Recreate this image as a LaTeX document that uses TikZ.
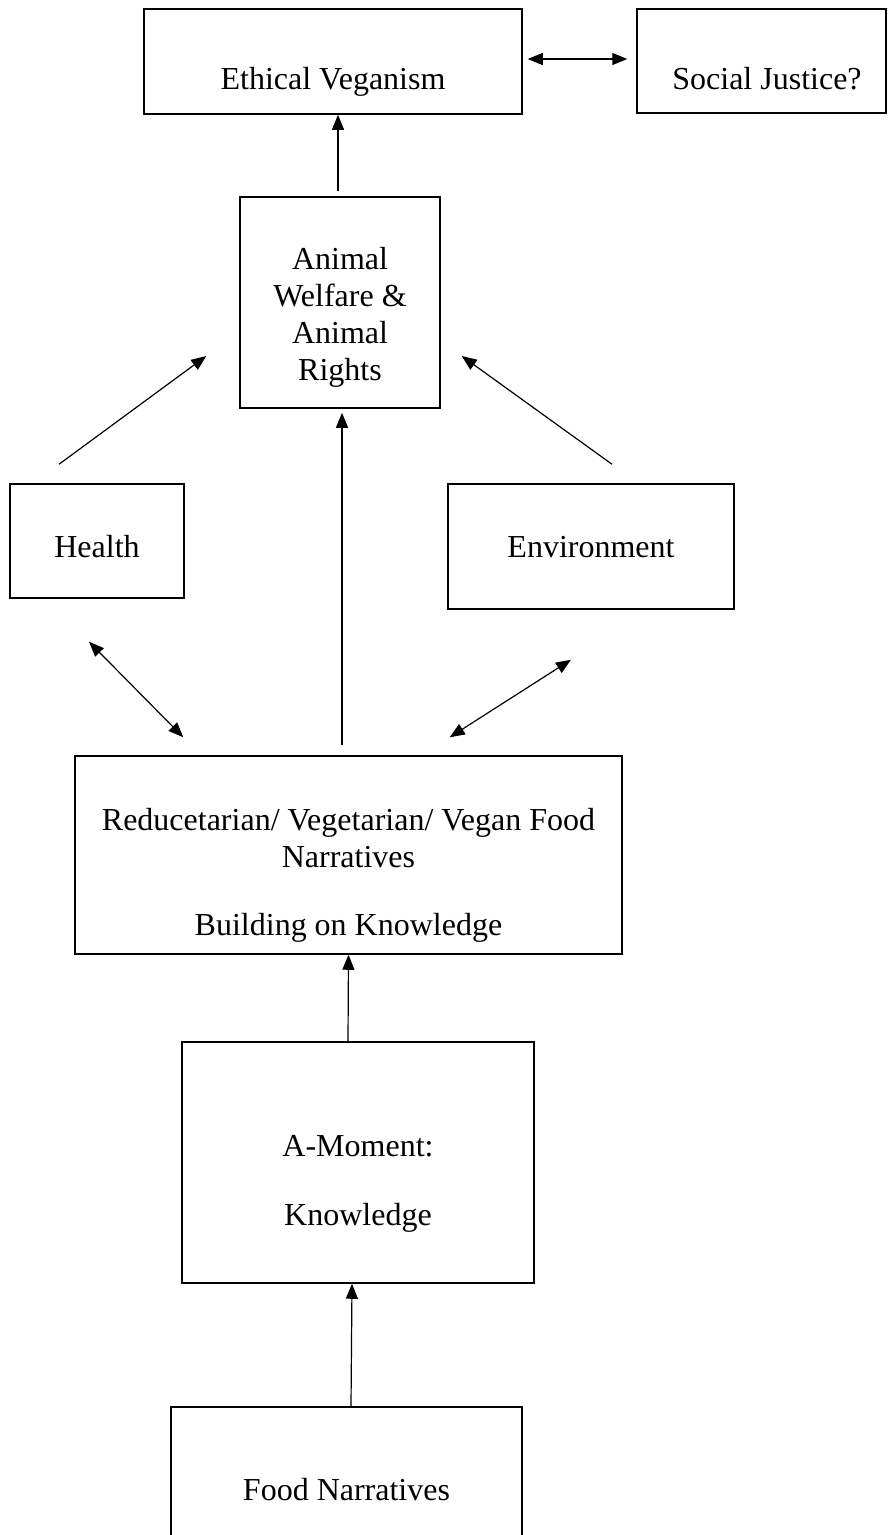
\documentclass[tikz,border=0pt]{standalone}
\usepackage{fontspec}
\setmainfont{Liberation Serif}
\usetikzlibrary{arrows.meta}
\begin{document}
\begin{tikzpicture}[x=1pt,y=-1pt,
  box/.style={draw, line width=1.5pt, inner sep=0pt},
  lbl/.style={font=\fontsize{32}{37}\selectfont, align=center, inner sep=0pt, anchor=base},
  conn/.style={line width=1.2pt, -{Triangle[length=15pt,width=12pt]}},
  conn2/.style={line width=1.2pt, {Triangle[length=15pt,width=12pt]}-{Triangle[length=15pt,width=12pt]}}]
\useasboundingbox (0,0) rectangle (889,1535);
% boxes
\node[box, minimum width=378pt, minimum height=105pt] (eth) at (333,61.5) {};
\node[box, minimum width=249pt, minimum height=104pt] (soc) at (761.5,61) {};
\node[box, minimum width=200pt, minimum height=211pt] (ani) at (340,302.5) {};
\node[box, minimum width=174pt, minimum height=114pt] (hea) at (97,541) {};
\node[box, minimum width=286pt, minimum height=125pt] (env) at (591,546.5) {};
\node[box, minimum width=547pt, minimum height=198pt] (red) at (348.5,855) {};
\node[box, minimum width=352pt, minimum height=241pt] (amo) at (358,1162.5) {};
\node[box, minimum width=351pt, minimum height=138pt] (food) at (346.5,1476) {};
% texts (base anchor = baseline of the last line)
\node[lbl] (ethT) at (333,89) {Ethical Veganism};
\node[lbl] (socT) at (767,89) {Social Justice?};
\node[lbl] (aniT) at (340,380) {Animal\\Welfare \&\\Animal\\Rights};
\node[lbl] (heaT) at (97,557) {Health};
\node[lbl] (envT) at (591,557) {Environment};
\node[lbl] (redT) at (348.5,935) {Reducetarian/ Vegetarian/ Vegan Food\\Narratives\\[31pt]Building on Knowledge};
\node[lbl] (amoT) at (358,1225) {A-Moment:\\[32pt]Knowledge};
\node[lbl] (foodT) at (346.5,1500) {Food Narratives};
% connectors
\draw[conn2] ([xshift=5pt,yshift=2.5pt]eth.east) -- ([xshift=-9pt,yshift=2pt]soc.west);
\draw[conn] ([xshift=-2pt,yshift=5pt]ani.north) coordinate (c1) -- (c1 |- eth.south);
\draw[conn] ([xshift=-38pt,yshift=19pt]hea.north) -- ([xshift=-33pt,yshift=-53.5pt]ani.west);
\draw[conn] ([xshift=21pt,yshift=19pt]env.north) -- ([xshift=21pt,yshift=-53.5pt]ani.east);
\draw[conn] ([xshift=-6.5pt,yshift=10pt]red.north) coordinate (c2) -- ([yshift=-4pt]c2 |- ani.south);
\draw[conn2] ([xshift=-8pt,yshift=-43pt]hea.south) -- ([xshift=109pt,yshift=18pt]red.north west);
\draw[conn2] ([xshift=-20pt,yshift=-50pt]env.south) -- ([xshift=-173pt,yshift=18pt]red.north east);
\draw[conn] ([xshift=-10pt]amo.north) -- (red.south);
\draw[conn] ([xshift=4.5pt]food.north) -- ([xshift=-6pt]amo.south);
\end{tikzpicture}
\end{document}
